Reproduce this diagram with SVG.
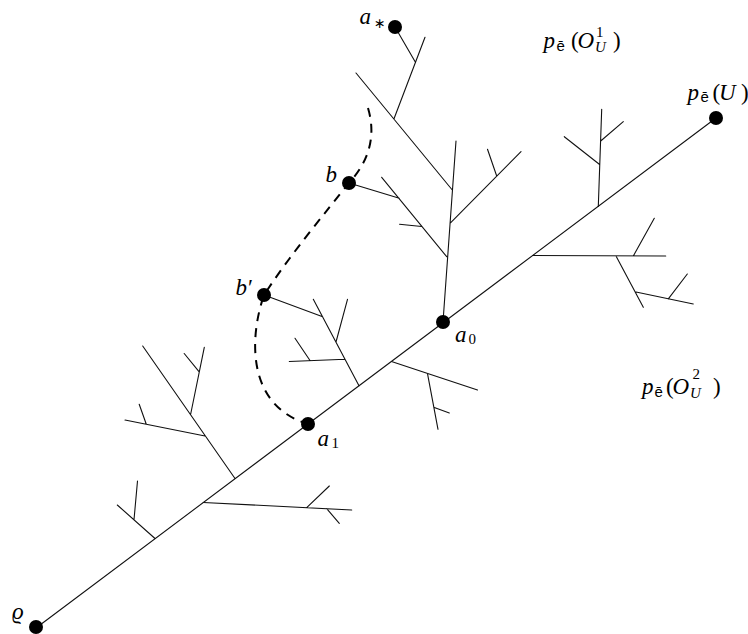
<svg xmlns="http://www.w3.org/2000/svg" width="748" height="634" viewBox="0 0 748 634">
<defs>
<style>
.e{fill:none;stroke:#111;stroke-width:1.1;stroke-linecap:round}
.d{fill:none;stroke:#000;stroke-width:2;stroke-dasharray:9 7}
.dot{fill:#000}
.m{font-family:'Liberation Serif','DejaVu Serif',serif;font-style:italic;font-size:23px;fill:#000}
.r{font-style:normal}
.s{font-size:15px}
.bar{font-family:'Liberation Sans','DejaVu Sans',sans-serif;font-style:normal;font-size:15px}
.ast{font-family:'DejaVu Sans',sans-serif;font-style:normal;font-size:14px}
</style>
</defs>
<rect width="748" height="634" fill="#fff"/>
<g id="connectors">
<path class="e" d="M36,628 L716,118"/>
<path class="e" d="M443,322 L456,141 M446.7,256.7 L381.7,177.3 M349,183 L399.3,198.3 M399.5,224.3 L421.7,226.5 M450,223.3 L521,151.7 M496.7,176 L487.5,149.3 M452.3,190 L356,73 M394,118.8 L425,37.3 M415.3,62 L395,27"/>
<path class="e" d="M598.3,206.5 L601.7,109.3 M599.3,164.3 L564.3,136.7 M600.7,141 L623.3,121.7"/>
<path class="e" d="M532.7,255.5 L665.7,256 M633.3,256 L654.3,218.3 M616,256 L643.3,307.3 M636,292 L693.3,304 M668.3,298.8 L687.3,274"/>
<path class="e" d="M391.5,361.6 L477.5,390 M427.5,373.7 L438,429.3 M434.3,407.5 L449.3,413"/>
<path class="e" d="M359,385.7 L313.3,299.3 M336,342 L347.5,299.3 M345,359.3 L289.3,361.5 M310,360.5 L295,338.3 M264,295 L322.7,316.7"/>
<path class="e" d="M235,478.5 L142.7,346 M190.7,414 L204.3,347.3 M199,371.7 L184.2,353.5 M205,436 L125,420 M146.3,424.2 L139.2,404.3"/>
<path class="e" d="M155,538.5 L117.3,505 M134,519.8 L137.5,481"/>
<path class="e" d="M203.3,502.5 L351.7,510 M306.7,507.7 L329.3,486 M326.7,508.7 L339.3,523.3"/>
<path class="d" d="M368,108 C376,135 370,160 349,183 C325,213 290,255 264,295 C250,335 245,405 308,424"/>
</g>
<g id="node-rho"><circle class="dot" cx="36" cy="627" r="7"/><text class="m" x="12" y="619">ϱ</text></g>
<g id="node-a1"><circle class="dot" cx="308" cy="424" r="7"/><text class="m" x="317.5" y="446">a<tspan class="r s" x="331.5" y="448">1</tspan></text></g>
<g id="node-a0"><circle class="dot" cx="443" cy="322" r="7"/><text class="m" x="455" y="341.5">a<tspan class="r s" x="468.5" y="344">0</tspan></text></g>
<g id="node-b"><circle class="dot" cx="349" cy="183" r="7"/><text class="m" x="325.5" y="181.5">b</text></g>
<g id="node-bprime"><circle class="dot" cx="264" cy="295" r="7"/><text class="m" x="235.5" y="294.5">b<tspan class="r" x="248" y="294.5">′</tspan></text></g>
<g id="node-astar"><circle class="dot" cx="395" cy="27" r="7"/><text class="m" x="359.5" y="24">a<tspan class="ast" x="374" y="27.5">∗</tspan></text></g>
<g id="node-pU"><circle class="dot" cx="716" cy="118" r="7"/><text class="m" x="687.5" y="99.5">p<tspan class="bar" x="700.5" y="102">ē</tspan><tspan class="r" x="712.5" y="99.5">(</tspan><tspan x="719" y="99.5">U</tspan><tspan class="r" x="741" y="99.5">)</tspan></text></g>
<g id="label-O1"><text class="m" x="543.5" y="48">p<tspan class="bar" x="556.5" y="50.5">ē</tspan><tspan class="r" x="571" y="48">(</tspan><tspan x="577.5" y="48">O</tspan><tspan class="r s" x="596" y="36.5">1</tspan><tspan class="s" x="595" y="51.5">U</tspan><tspan class="r" x="613" y="48">)</tspan></text></g>
<g id="label-O2"><text class="m" x="642" y="394">p<tspan class="bar" x="654.5" y="396.5">ē</tspan><tspan class="r" x="666" y="394">(</tspan><tspan x="672.5" y="394">O</tspan><tspan class="r s" x="692.5" y="378.5">2</tspan><tspan class="s" x="690" y="397.5">U</tspan><tspan class="r" x="713" y="394">)</tspan></text></g>
</svg>
